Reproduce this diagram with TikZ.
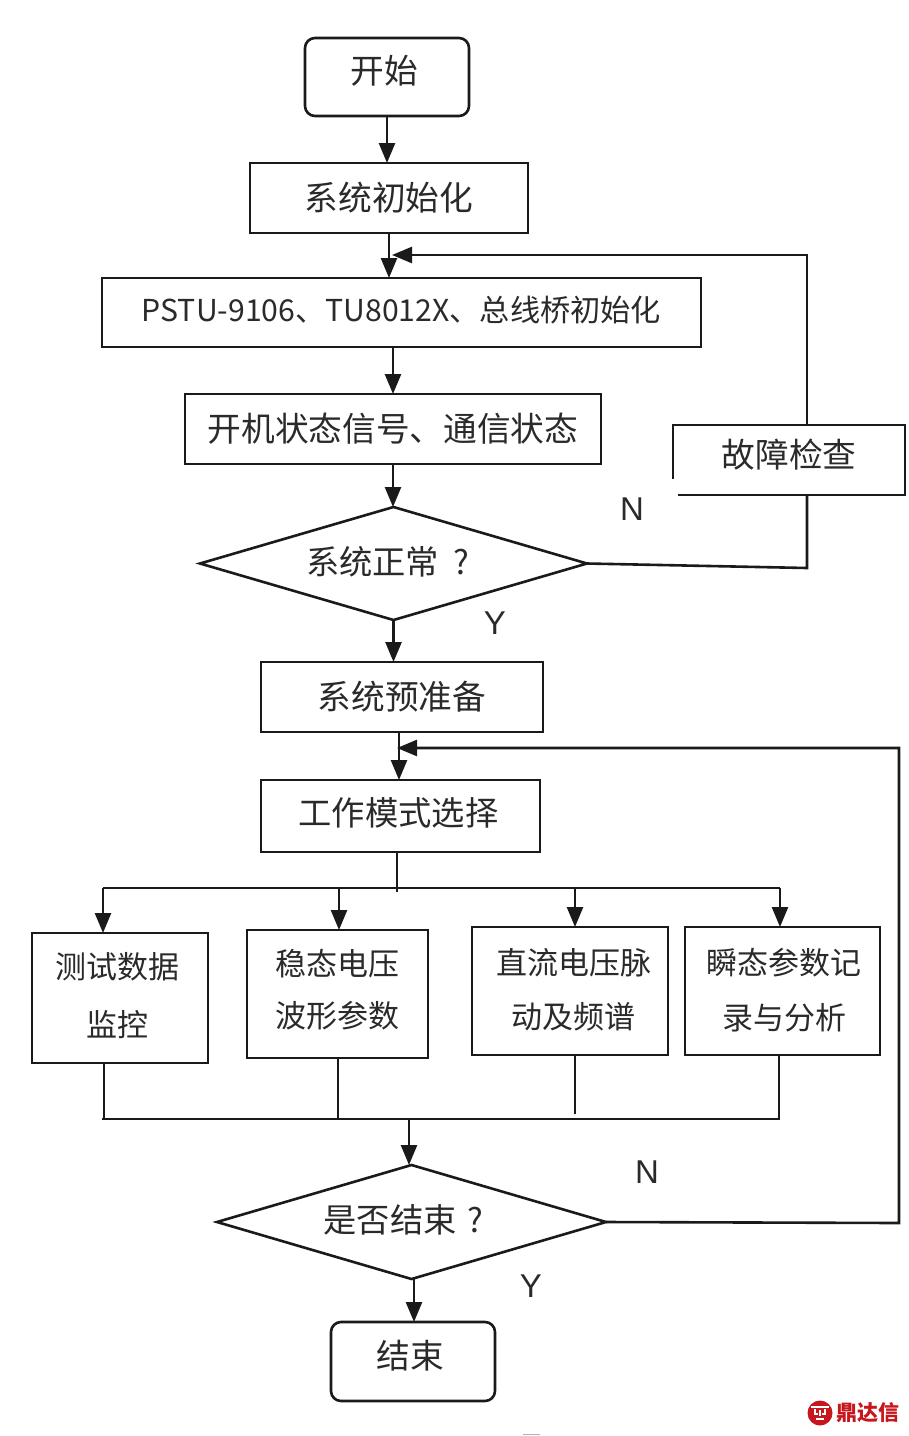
\documentclass[tikz,border=0pt]{standalone}
\usepackage{fontspec}
\setmainfont{Noto Sans CJK SC}
\newfontfamily\latinfont{Liberation Sans}
\usetikzlibrary{arrows.meta,shapes.geometric,calc}
\definecolor{ink}{HTML}{1A1A1A}
\definecolor{txt}{HTML}{2A2A2A}
\definecolor{brand}{HTML}{C8161D}
\newcommand\upby[2]{\raisebox{#1}[0pt][0pt]{#2}}
\newcommand\twolines[4]{\raisebox{#1}[0pt][0pt]{\fontsize{31}{#2}\selectfont\begin{tabular}{@{}c@{}}#3\\#4\end{tabular}}}
\tikzset{
  every node/.style={inner sep=0pt,outer sep=0pt,text=txt,align=center},
  ln/.style={draw=ink,line width=2.6pt},
  box/.style={ln,rectangle,font=\fontsize{33.7}{51}\selectfont},
  rbox/.style={box,rounded corners=10pt},
  dia/.style={ln,diamond,aspect=3.42,font=\fontsize{33.3}{40}\selectfont},
  lat/.style={font=\latinfont\fontsize{33}{40}\selectfont},
  arr/.style={ln,-{Triangle[length=20pt,width=16pt]}},
}
\begin{document}
\begin{tikzpicture}[x=1pt,y=-1pt]
\useasboundingbox (0,0) rectangle (909,1436);
\node[rbox,minimum width=164pt,minimum height=78pt] (start) at (387,77) {\upby{-6.5pt}{开始\hspace{6pt}}};
\node[box,minimum width=278pt,minimum height=70pt] (init) at (389,198) {系统初始化};
\node[box,minimum width=599pt,minimum height=69pt] (pstu) at (401.5,312.5) {\upby{-9pt}{\fontsize{30.2}{36}\selectfont PSTU-9106、TU8012X、总线桥初始化}};
\node[box,minimum width=416pt,minimum height=70pt] (status) at (393,429) {开机状态信号、通信状态};
\node[dia,minimum width=387pt,minimum height=113pt] (ok) at (393.5,563.5) {\upby{-11pt}{系统正常\hspace{14pt}?\hspace{12pt}}};
\node[box,minimum width=282pt,minimum height=70pt] (prep) at (402,697) {系统预准备};
\node[box,minimum width=279pt,minimum height=72pt] (mode) at (400.5,816) {\upby{-9.5pt}{\fontsize{33.3}{40}\selectfont 工作模式选择\hspace{4pt}}};
\node[box,minimum width=176pt,minimum height=130pt] (b1) at (120,998) {\hspace{-6pt}\twolines{-4pt}{58}{测试数据}{监控}};
\node[box,minimum width=181pt,minimum height=128pt] (b2) at (337.5,994) {\twolines{-3pt}{52}{稳态电压}{波形参数}};
\node[box,minimum width=196pt,minimum height=128pt] (b3) at (570,991) {\hspace{7pt}\twolines{-6pt}{54}{直流电压脉}{动及频谱}};
\node[box,minimum width=195pt,minimum height=128pt] (b4) at (782.5,991) {\hspace{3pt}\twolines{-6.5pt}{55}{瞬态参数记}{录与分析}};
\node[dia,minimum width=389pt,minimum height=114pt] (fin) at (411.5,1222) {\upby{-10.5pt}{是否结束\hspace{11pt}?\hspace{16pt}}};
\node[rbox,minimum width=164pt,minimum height=79pt] (stop) at (413,1361.5) {\upby{-7pt}{结束\hspace{6pt}}};

\node[font=\fontsize{33.7}{40}\selectfont] (fault) at (789,455) {故障检查};
\coordinate (fa) at (673,479);
\coordinate (fb) at (673,425);
\coordinate (fc) at (905,425);
\coordinate (fd) at (905,495);
\coordinate (fe) at (678,495);
\draw[ln] (fa) -- (fb) -- (fc) -- (fd) -- (fe);

\node[lat] (n1) at (632,509) {N};
\node[lat] (y1) at (495,623) {Y};
\node[lat] (n2) at (647,1172) {N};
\node[lat] (y2) at (531,1286) {Y};

% main line
\draw[arr] (start.south) -- (start.south |- init.north);
\draw[arr] (init.south) -- (init.south |- pstu.north);
\draw[arr] (status.north |- pstu.south) -- (status.north);
\draw[arr] (status.south) -- (status.south |- ok.north);
\draw[arr] (ok.south) -- (ok.south |- prep.north);
\coordinate (mtop) at (399,780);
\coordinate (stoptop) at (414,1322);
\draw[arr] (mtop |- prep.south) -- (mtop);
\draw[arr] (stoptop |- fin.south) -- (stoptop);

% fault loop
\coordinate (r1) at (807,568);
\coordinate (r2) at (807,255);
\coordinate (r3) at (807,425);
\coordinate (r4) at (807,495);
\coordinate (r5) at (392,255);
\draw[ln] (ok.east) -- (r1) -- (r4);
\draw[arr] (r3) -- (r2) -- (r5);

% end loop
\coordinate (q1) at (899,1223);
\coordinate (q2) at (899,748);
\coordinate (q3) at (397,748);
\draw[arr] (fin.east) -- (q1) -- (q2) -- (q3);

% distribution bus
\coordinate (busC) at (397,888);
\coordinate (busL) at (103,888);
\coordinate (busR) at (780,888);
\coordinate (busE) at (397,892);
\coordinate (bus2) at (339,888);
\coordinate (bus3) at (575,888);
\draw[ln] (busL) -- (busR);
\draw[ln] (busC |- mode.south) -- (busE);
\draw[arr] (busL) -- (busL |- b1.north);
\draw[arr] (bus2) -- (bus2 |- b2.north);
\draw[arr] (bus3) -- (bus3 |- b3.north);
\draw[arr] (busR) -- (busR |- b4.north);

% collection bus
\coordinate (colL) at (102,1119);
\coordinate (colR) at (780,1119);
\coordinate (colC) at (409,1119);
\coordinate (c1) at (104,1119);
\coordinate (c2) at (338,1119);
\coordinate (c3) at (575,1114);
\coordinate (c4) at (779,1119);
\draw[ln] (colL) -- (colR);
\draw[ln] (c1 |- b1.south) -- (c1);
\draw[ln] (c2 |- b2.south) -- (c2);
\draw[ln] (c3 |- b3.south) -- (c3);
\draw[ln] (c4 |- b4.south) -- (c4);
\draw[arr] (colC) -- (colC |- fin.north);

% watermark
\fill[brand] (820,1413) circle (12.5pt);
\draw[white,line width=1.5pt] (811,1407) -- (829,1407);
\draw[white,line width=1.3pt] (815,1409) -- (815,1414) -- (818,1414) (825,1409) -- (825,1414) -- (822,1414);
\draw[white,line width=1.3pt] (820,1410) -- (820,1416) (816,1419) -- (824,1419);
\node[font=\bfseries\fontsize{21}{21}\selectfont,text=brand] (mark) at (868,1413) {鼎达信};
\fill[black!30] (523,1433.5) rectangle (540,1435);
\end{tikzpicture}
\end{document}
